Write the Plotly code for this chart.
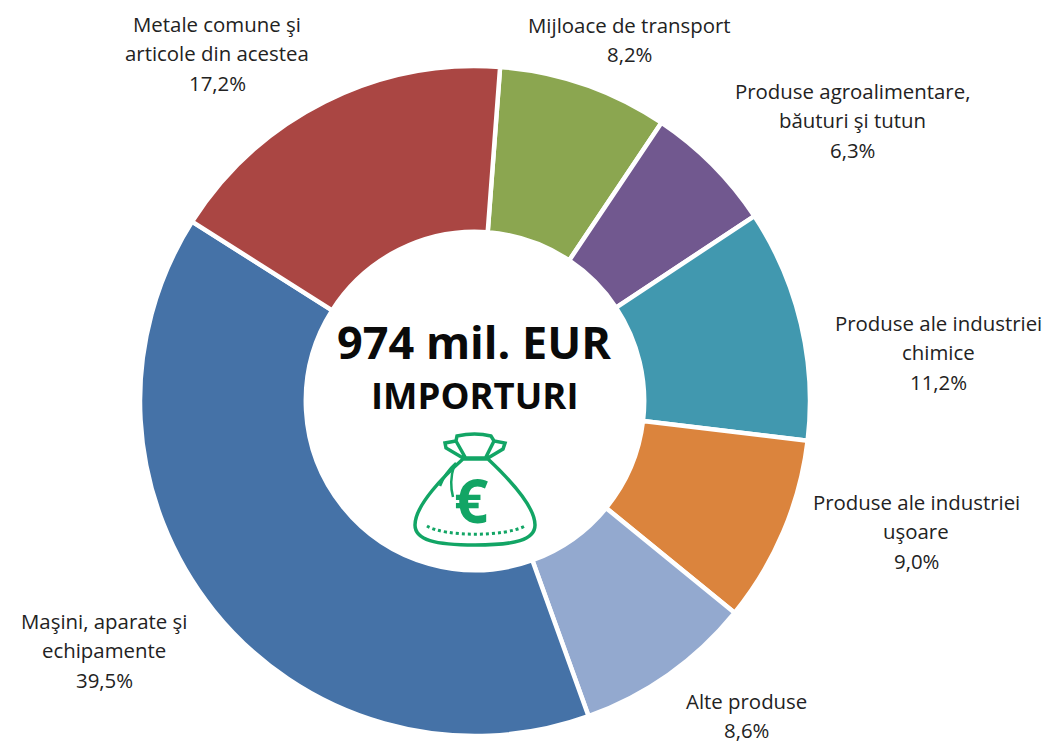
import plotly.graph_objects as go

labels = ["Mijloace de transport", "Produse agroalimentare,<br>băuturi şi tutun", "Produse ale industriei<br>chimice", "Produse ale industriei<br>uşoare", "Alte produse", "Maşini, aparate şi<br>echipamente", "Metale comune şi<br>articole din acestea"]
values = [8.2, 6.3, 11.2, 9.0, 8.6, 39.5, 17.2]
pct = ["8,2%", "6,3%", "11,2%", "9,0%", "8,6%", "39,5%", "17,2%"]
colors = ["#8BA650", "#71588F", "#4198AF", "#DB843D", "#93A9CF", "#4572A7", "#AA4643"]
label_x = [629, 852, 938, 916, 746, 104, 217]
label_top = [25, 91, 323, 502, 701, 621, 24]
LINE = 29.3
FONT = "Open Sans"
W, H = 1045, 745
G = "#12A565"


def X(v):
    return v / W


def Y(v):
    return 1 - v / H


fig = go.Figure(go.Pie(
    values=values, labels=labels, sort=False, direction="clockwise", rotation=4.3,
    hole=0.505, marker=dict(colors=colors, line=dict(color="white", width=4.5)),
    textinfo="none", hoverinfo="label+value", showlegend=False,
    domain=dict(x=[X(140), X(810)], y=[Y(736), Y(66)]),
))
for l, p, x, y in zip(labels, pct, label_x, label_top):
    for i, part in enumerate(l.split("<br>") + [p]):
        fig.add_annotation(x=X(x), y=Y(y + i * LINE), xref="paper", yref="paper", text=part, showarrow=False,
                           font=dict(family=FONT, size=20.4, color="#222"), xanchor="center", yanchor="middle")
fig.add_annotation(x=X(473.5), y=Y(341), xref="paper", yref="paper", text="<b>974 mil. EUR</b>", showarrow=False,
                   font=dict(family=FONT, size=45, color="#0a0a0a"), xanchor="center", yanchor="middle")
fig.add_annotation(x=X(474), y=Y(395), xref="paper", yref="paper", text="<b>IMPORTURI</b>", showarrow=False,
                   font=dict(family=FONT, size=36.5, color="#0a0a0a"), xanchor="center", yanchor="middle")
fig.add_annotation(x=X(471), y=Y(500), xref="paper", yref="paper", text="<b>€</b>", showarrow=False,
                   font=dict(family=FONT, size=60, color=G), xanchor="center", yanchor="middle")
# money bag: body, neck, tie ribbons, dotted hem
fig.add_shape(type="path", xref="paper", yref="paper", line=dict(color=G, width=3.5),
              path=" ".join([
                  f"M {X(463)} {Y(459)}",
                  f"C {X(445)} {Y(475)} {X(415)} {Y(505)} {X(415)} {Y(525)}",
                  f"C {X(415)} {Y(540)} {X(435)} {Y(545)} {X(475)} {Y(545)}",
                  f"C {X(515)} {Y(545)} {X(535)} {Y(540)} {X(535)} {Y(525)}",
                  f"C {X(535)} {Y(505)} {X(505)} {Y(475)} {X(488)} {Y(459)} Z"]))
fig.add_shape(type="path", xref="paper", yref="paper", line=dict(color=G, width=3.5),
              path=" ".join([
                  f"M {X(463)} {Y(458)} L {X(446)} {Y(448)} L {X(445)} {Y(443)} L {X(456)} {Y(441)}",
                  f"L {X(457)} {Y(436)} Q {X(475)} {Y(432)} {X(491)} {Y(436)}",
                  f"L {X(494)} {Y(441)} L {X(505)} {Y(443)} L {X(503)} {Y(449)} L {X(488)} {Y(458)} Z",
                  f"M {X(456)} {Y(441)} L {X(465)} {Y(457)} M {X(494)} {Y(441)} L {X(486)} {Y(457)}"]))
fig.add_shape(type="path", xref="paper", yref="paper", line=dict(color=G, width=2.5),
              path=f"M {X(456)} {Y(463)} C {X(448)} {Y(470)} {X(443)} {Y(478)} {X(440)} {Y(486)} M {X(454)} {Y(466)} Q {X(449)} {Y(482)} {X(453)} {Y(497)}")
fig.add_shape(type="path", xref="paper", yref="paper", line=dict(color=G, width=3, dash="dot"),
              path=f"M {X(427)} {Y(526)} C {X(445)} {Y(537)} {X(505)} {Y(537)} {X(525)} {Y(526)}")
fig.update_layout(width=W, height=H, margin=dict(l=0, r=0, t=0, b=0), paper_bgcolor="white", plot_bgcolor="white")
fig.write_html("out.html", post_script="document.body.style.margin='0';", config=dict(displayModeBar=False))
